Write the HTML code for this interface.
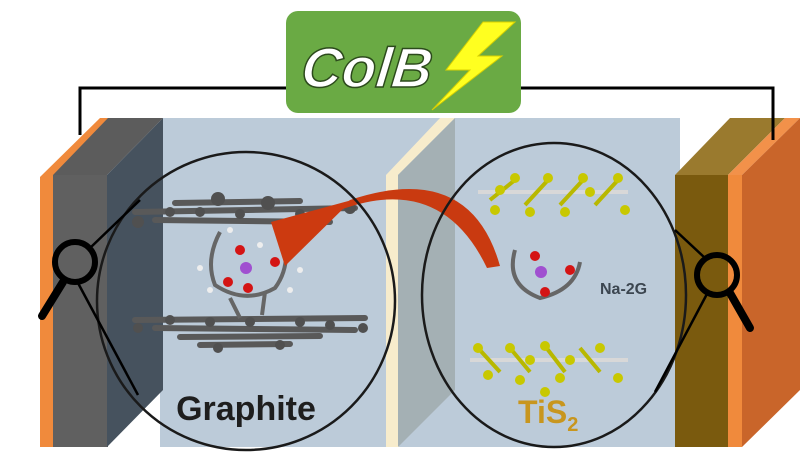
<!DOCTYPE html>
<html><head><meta charset="utf-8"><style>
html,body{margin:0;padding:0;background:#fff;width:800px;height:468px;overflow:hidden}
svg{display:block}
text{font-family:"Liberation Sans",sans-serif;font-weight:bold}
</style></head><body>
<svg width="800" height="468" viewBox="0 0 800 468">
<!-- main light blue box -->
<rect x="160" y="118" width="520" height="329" fill="#bccbd9"/>
<!-- left electrode -->
<polygon points="40,177 100,118 110,118 53,177" fill="#f08a3c"/>
<rect x="40" y="177" width="13" height="270" fill="#f08a3c"/>
<polygon points="53,175 108,118 163,118 107,175" fill="#5c5c5c"/>
<rect x="53" y="175" width="55" height="272" fill="#606060"/>
<polygon points="107,175 163,118 163,390 107,447" fill="#46525e"/>
<!-- separator -->
<polygon points="386,175 440,118 455,118 398,175" fill="#f7eccc"/>
<rect x="386" y="175" width="13" height="272" fill="#f7eccc"/>
<polygon points="398,175 455,118 455,390 398,447" fill="#a4b0b4"/>
<!-- right electrode -->
<polygon points="675,175 730,118 785,118 728,175" fill="#9a7a2e"/>
<rect x="675" y="175" width="53" height="272" fill="#7a5a0e"/>
<polygon points="728,175 785,118 800,118 742,175" fill="#f2914a"/>
<rect x="728" y="175" width="14" height="272" fill="#f08a3c"/>
<polygon points="742,175 800,118 800,390 742,447" fill="#c9652a"/>
<!-- wires -->
<polyline points="80,135 80,88 290,88" fill="none" stroke="#000" stroke-width="3"/>
<polyline points="518,88 773,88 773,140" fill="none" stroke="#000" stroke-width="3"/>
<!-- title -->
<rect x="286" y="11" width="235" height="102" rx="12" fill="#6aaa44"/>
<text x="300" y="87" font-size="56" font-style="italic" fill="#fff" stroke="#2c4a1c" stroke-width="1.5" transform="skewX(-6) translate(9,0)">ColB</text>
<polygon points="515,22 483,22 446,70 470,70 432,110 502,56 478,56" fill="#ffff20" stroke="#d8d000" stroke-width="1"/>
<!-- graphite -->
<g stroke="#595959" stroke-width="6" stroke-linecap="round">
<line x1="135" y1="212" x2="355" y2="208"/>
<line x1="155" y1="220" x2="330" y2="222"/>
<line x1="175" y1="203" x2="300" y2="201"/>
<line x1="135" y1="320" x2="365" y2="318"/>
<line x1="155" y1="328" x2="355" y2="330"/>
<line x1="180" y1="337" x2="320" y2="336"/>
<line x1="200" y1="345" x2="290" y2="344"/>
</g>
<g fill="#505050">
<circle cx="218" cy="199" r="7"/><circle cx="268" cy="203" r="7"/><circle cx="350" cy="208" r="6"/><circle cx="138" cy="222" r="6"/>
<circle cx="170" cy="212" r="5"/><circle cx="200" cy="212" r="5"/><circle cx="240" cy="214" r="5"/><circle cx="300" cy="214" r="5"/>
<circle cx="138" cy="328" r="5"/><circle cx="363" cy="328" r="5"/><circle cx="218" cy="348" r="5"/><circle cx="280" cy="345" r="5"/>
<circle cx="170" cy="320" r="5"/><circle cx="210" cy="322" r="5"/><circle cx="250" cy="322" r="5"/><circle cx="300" cy="322" r="5"/><circle cx="330" cy="325" r="5"/>
</g>
<g stroke="#666" stroke-width="4" fill="none">
<path d="M220,232 Q205,260 215,285 Q245,305 275,288 Q292,265 283,232"/>
<path d="M230,298 L240,318 M265,292 L262,315"/>
</g>
<g fill="#eee"><circle cx="200" cy="268" r="3"/><circle cx="210" cy="290" r="3"/><circle cx="300" cy="270" r="3"/><circle cx="230" cy="230" r="3"/><circle cx="260" cy="245" r="3"/><circle cx="290" cy="290" r="3"/></g>
<g fill="#d41414"><circle cx="240" cy="250" r="5"/><circle cx="228" cy="282" r="5"/><circle cx="248" cy="288" r="5"/><circle cx="275" cy="262" r="5"/></g>
<circle cx="246" cy="268" r="6" fill="#a050d0"/>
<!-- TiS2 layers -->
<g stroke="#d8d8d8" stroke-width="4"><line x1="478" y1="192" x2="628" y2="192"/><line x1="470" y1="360" x2="628" y2="360"/></g>
<g stroke="#b8b800" stroke-width="4"><line x1="490" y1="200" x2="515" y2="180"/><line x1="525" y1="205" x2="548" y2="180"/><line x1="560" y1="205" x2="583" y2="180"/><line x1="595" y1="205" x2="618" y2="180"/>
<line x1="478" y1="348" x2="500" y2="372"/><line x1="510" y1="348" x2="530" y2="372"/><line x1="545" y1="346" x2="565" y2="372"/><line x1="580" y1="348" x2="600" y2="372"/></g>
<g fill="#c8c800">
<circle cx="515" cy="178" r="5"/><circle cx="548" cy="178" r="5"/><circle cx="583" cy="178" r="5"/><circle cx="618" cy="178" r="5"/><circle cx="500" cy="190" r="5"/><circle cx="590" cy="192" r="5"/>
<circle cx="495" cy="210" r="5"/><circle cx="530" cy="212" r="5"/><circle cx="565" cy="212" r="5"/><circle cx="625" cy="210" r="5"/>
<circle cx="478" cy="348" r="5"/><circle cx="510" cy="348" r="5"/><circle cx="545" cy="346" r="5"/><circle cx="600" cy="348" r="5"/><circle cx="530" cy="360" r="5"/><circle cx="570" cy="360" r="5"/>
<circle cx="488" cy="375" r="5"/><circle cx="520" cy="380" r="5"/><circle cx="560" cy="378" r="5"/><circle cx="618" cy="378" r="5"/><circle cx="545" cy="392" r="5"/>
</g>
<g stroke="#666" stroke-width="4" fill="none"><path d="M515,250 Q505,285 540,298 Q575,290 580,262"/></g>
<g fill="#d41414"><circle cx="535" cy="256" r="5"/><circle cx="545" cy="292" r="5"/><circle cx="570" cy="270" r="5"/></g>
<circle cx="541" cy="272" r="6" fill="#a050d0"/>
<!-- red arrow -->
<path d="M500,266 Q470,160 350,200 L335,212 Q440,170 487,268 Z" fill="#c93a10"/>
<polygon points="271,222 352,200 285,266" fill="#cc3a10"/>
<!-- circles -->
<circle cx="246" cy="301" r="149" fill="none" stroke="#1a1a1a" stroke-width="2.5"/>
<ellipse cx="554" cy="295" rx="132" ry="152" fill="none" stroke="#1a1a1a" stroke-width="2.5"/>
<!-- magnifiers -->
<g stroke="#000" fill="none">
<line x1="90" y1="248" x2="140" y2="200" stroke-width="2.5"/>
<line x1="78" y1="283" x2="138" y2="395" stroke-width="2.5"/>
<circle cx="75" cy="262" r="20" stroke-width="6"/>
<line x1="63" y1="282" x2="42" y2="316" stroke-width="8" stroke-linecap="round"/>
<line x1="705" y1="258" x2="675" y2="230" stroke-width="2.5"/>
<line x1="708" y1="292" x2="655" y2="392" stroke-width="2.5"/>
<circle cx="717" cy="275" r="20" stroke-width="6"/>
<line x1="730" y1="293" x2="750" y2="328" stroke-width="8" stroke-linecap="round"/>
</g>
<!-- labels -->
<text x="246" y="420" font-size="34" fill="#1e1e1e" text-anchor="middle">Graphite</text>
<text x="600" y="294" font-size="16" fill="#3c4650">Na-2G</text>
<text x="518" y="423" font-size="32" fill="#c8961e">TiS<tspan font-size="20" dy="8">2</tspan></text>
</svg>
</body></html>
